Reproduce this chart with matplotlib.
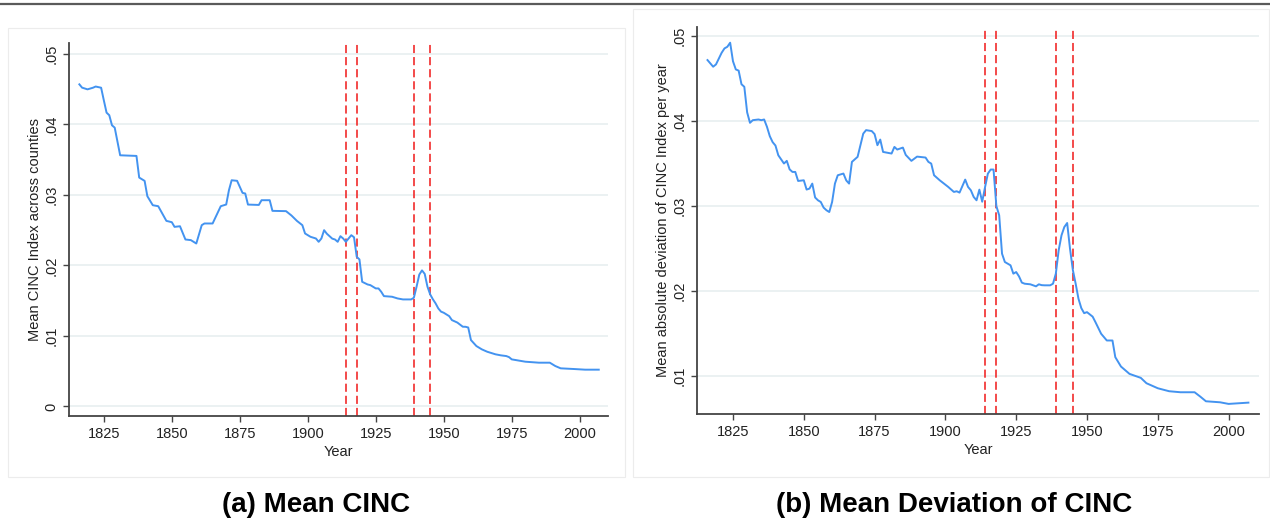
import matplotlib
matplotlib.use("Agg")
import matplotlib.pyplot as plt
from matplotlib.lines import Line2D
from matplotlib.patches import Rectangle

plt.rcParams['font.family'] = ['Liberation Sans', 'DejaVu Sans']

# ---------------- data ----------------
years_mean = [1816, 1817, 1819, 1821, 1822, 1824, 1825, 1826, 1827, 1828, 1829, 1831,
              1837, 1838, 1840, 1841, 1843, 1845, 1848, 1850, 1851, 1853, 1855, 1857,
              1859, 1861, 1862, 1865, 1868, 1870, 1871, 1872, 1874, 1876, 1877, 1878,
              1882, 1883, 1886, 1887, 1892, 1894, 1896, 1898, 1899, 1901, 1903, 1904,
              1905, 1906, 1907, 1908, 1909, 1910, 1911, 1912, 1913, 1914, 1915, 1916,
              1917, 1918, 1919, 1920, 1922, 1923, 1925, 1926, 1927, 1928, 1931, 1933,
              1935, 1938, 1939, 1940, 1941, 1942, 1943, 1944, 1945, 1946, 1947, 1948,
              1949, 1950, 1952, 1953, 1955, 1957, 1958, 1959, 1960, 1962, 1964, 1966,
              1969, 1971, 1973, 1974, 1975, 1980, 1985, 1989, 1991, 1993, 1998, 2002,
              2007]
mean_cinc = [0.04568, 0.04521, 0.04497, 0.04520, 0.04537, 0.04520, 0.04341, 0.04167,
             0.04130, 0.03987, 0.03954, 0.03562, 0.03553, 0.03246, 0.03199, 0.02982,
             0.02854, 0.02840, 0.02632, 0.02613, 0.02547, 0.02556, 0.02368, 0.02359,
             0.02311, 0.02571, 0.02595, 0.02595, 0.02840, 0.02864, 0.03066, 0.03208,
             0.03200, 0.03029, 0.03020, 0.02863, 0.02858, 0.02925, 0.02925, 0.02774,
             0.02770, 0.02708, 0.02632, 0.02571, 0.02453, 0.02406, 0.02382, 0.02335,
             0.02382, 0.02500, 0.02450, 0.02415, 0.02380, 0.02368, 0.02335, 0.02415,
             0.02382, 0.02335, 0.02382, 0.02429, 0.02400, 0.02122, 0.02085, 0.01768,
             0.01730, 0.01721, 0.01674, 0.01674, 0.01627, 0.01565, 0.01556, 0.01532,
             0.01518, 0.01518, 0.01541, 0.01697, 0.01870, 0.01930, 0.01880, 0.01700,
             0.01590, 0.01520, 0.01462, 0.01390, 0.01345, 0.01329, 0.01281, 0.01225,
             0.01190, 0.01131, 0.01130, 0.01120, 0.00942, 0.00857, 0.00810, 0.00776,
             0.00740, 0.00725, 0.00715, 0.00700, 0.00668, 0.00635, 0.00621, 0.00621,
             0.00574, 0.00541, 0.00531, 0.00522, 0.00522]

years_dev = [1816, 1817, 1818, 1819, 1821, 1822, 1823, 1824, 1825, 1826, 1827, 1828,
             1829, 1830, 1831, 1832, 1834, 1835, 1836, 1837, 1838, 1839, 1840, 1841,
             1843, 1844, 1845, 1846, 1847, 1848, 1850, 1851, 1852, 1853, 1854, 1855,
             1856, 1857, 1858, 1859, 1860, 1861, 1862, 1864, 1865, 1866, 1867, 1869,
             1870, 1871, 1872, 1874, 1875, 1876, 1877, 1878, 1881, 1882, 1883, 1885,
             1886, 1888, 1890, 1893, 1894, 1895, 1896, 1898, 1900, 1901, 1903, 1904,
             1905, 1907, 1908, 1909, 1910, 1911, 1912, 1913, 1914, 1915, 1916, 1917,
             1918, 1919, 1920, 1921, 1923, 1924, 1925, 1926, 1927, 1928, 1930, 1932,
             1933, 1934, 1935, 1937, 1938, 1939, 1940, 1941, 1942, 1943, 1944, 1945,
             1946, 1947, 1948, 1949, 1950, 1952, 1953, 1955, 1957, 1959, 1960, 1962,
             1965, 1969, 1971, 1975, 1979, 1983, 1988, 1990, 1992, 1997, 2000, 2007]
dev_cinc = [0.04714, 0.04675, 0.04636, 0.04663, 0.04800, 0.04851, 0.04870, 0.04918,
            0.04700, 0.04604, 0.04590, 0.04430, 0.04400, 0.04100, 0.03977, 0.04008,
            0.04016, 0.04008, 0.04016, 0.03930, 0.03820, 0.03750, 0.03710, 0.03596,
            0.03499, 0.03530, 0.03430, 0.03400, 0.03400, 0.03294, 0.03302, 0.03193,
            0.03204, 0.03263, 0.03100, 0.03067, 0.03047, 0.02981, 0.02950, 0.02929,
            0.03047, 0.03263, 0.03361, 0.03381, 0.03300, 0.03263, 0.03518, 0.03577,
            0.03714, 0.03850, 0.03891, 0.03880, 0.03844, 0.03714, 0.03780, 0.03635,
            0.03616, 0.03694, 0.03663, 0.03686, 0.03600, 0.03530, 0.03580, 0.03569,
            0.03518, 0.03498, 0.03361, 0.03302, 0.03251, 0.03224, 0.03165, 0.03173,
            0.03157, 0.03310, 0.03224, 0.03184, 0.03106, 0.03067, 0.03192, 0.03050,
            0.03220, 0.03380, 0.03428, 0.03428, 0.03000, 0.02890, 0.02440, 0.02342,
            0.02303, 0.02205, 0.02224, 0.02173, 0.02100, 0.02087, 0.02080, 0.02056,
            0.02080, 0.02070, 0.02068, 0.02068, 0.02087, 0.02205, 0.02479, 0.02655,
            0.02753, 0.02800, 0.02500, 0.02250, 0.02087, 0.01910, 0.01800, 0.01741,
            0.01753, 0.01700, 0.01635, 0.01499, 0.01420, 0.01420, 0.01224, 0.01114,
            0.01028, 0.00981, 0.00918, 0.00859, 0.00824, 0.00812, 0.00812, 0.00761,
            0.00706, 0.00694, 0.00675, 0.00690]

war_years = [1914, 1918, 1939, 1945]
x_ticks = [1825, 1850, 1875, 1900, 1925, 1950, 1975, 2000]
y_ticks_a = [0, 0.01, 0.02, 0.03, 0.04, 0.05]
y_labels_a = ['0', '.01', '.02', '.03', '.04', '.05']
y_ticks_b = [0.01, 0.02, 0.03, 0.04, 0.05]
y_labels_b = ['.01', '.02', '.03', '.04', '.05']
ylabel_a = 'Mean CINC Index across counties'
ylabel_b = 'Mean absolute deviation of CINC Index per year'
caption_a = '(a) Mean CINC'
caption_b = '(b) Mean Deviation of CINC'

# ---------------- styling ----------------
W, H = 1270, 520
LINE_C = '#4393f0'
RED_C = '#f23b3b'
GRID_C = '#e9f0f1'
AX_C = '#444444'

fig = plt.figure(figsize=(W / 100, H / 100), dpi=100)
fig.patch.set_facecolor('white')

# top rule and graph-region frames
fig.add_artist(Line2D([0, 1], [1 - 4 / H, 1 - 4 / H], transform=fig.transFigure,
                      color='#5a5a5a', lw=1.6))
fig.add_artist(Rectangle((8 / W, 1 - 477 / H), (624.5 - 8) / W, (477 - 28.3) / H,
                         transform=fig.transFigure, fill=False, ec='#ececec', lw=0.8))
fig.add_artist(Rectangle((633 / W, 1 - 477.3 / H), (1269 - 633) / W, (477.3 - 9.3) / H,
                         transform=fig.transFigure, fill=False, ec='#ececec', lw=0.8))


def make_axes(rect, years, vals, xlim, ylim, yt, ytl, ylabel):
    ax = fig.add_axes(rect)
    ax.set_xlim(*xlim)
    ax.set_ylim(*ylim)
    for s in ['top', 'right']:
        ax.spines[s].set_visible(False)
    for s in ['left', 'bottom']:
        ax.spines[s].set_color(AX_C)
        ax.spines[s].set_linewidth(1.3)
    ax.set_yticks(yt)
    ax.set_yticklabels(ytl)
    ax.set_xticks(x_ticks)
    ax.tick_params(axis='both', colors=AX_C, labelcolor='#222222', labelsize=10.5,
                   length=4, width=1.0, pad=4)
    for lab in ax.get_yticklabels():
        lab.set_rotation(90)
        lab.set_va('center')
    ax.yaxis.grid(True, color=GRID_C, lw=1.3)
    ax.set_axisbelow(True)
    for wy in war_years:
        ax.axvline(wy, color=RED_C, lw=1.3, linestyle=(0, (4.5, 2.2)), zorder=2)
    ax.plot(years, vals, color=LINE_C, lw=1.4, zorder=3)
    ax.set_xlabel('Year', fontsize=10.5, color='#222222', labelpad=3)
    ax.set_ylabel(ylabel, fontsize=10.5, color='#222222', labelpad=1.5)
    return ax


ax1 = make_axes([69.3 / W, 104 / H, (608 - 69.3) / W, (416 - 43.3) / H],
                years_mean, mean_cinc, (1812.3, 2010.4), (-0.00135, 0.0515),
                y_ticks_a, y_labels_a, ylabel_a)
ax2 = make_axes([697.3 / W, (H - 413.7) / H, (1258.6 - 697.3) / W, (413.7 - 26.7) / H],
                years_dev, dev_cinc, (1812.4, 2010.6), (0.0056, 0.05106),
                y_ticks_b, y_labels_b, ylabel_b)

fig.text(316 / W, 1 - 505 / H, caption_a, ha='center', va='center',
         fontsize=20, fontweight='bold', color='black')
fig.text(954 / W, 1 - 505 / H, caption_b, ha='center', va='center',
         fontsize=20, fontweight='bold', color='black')

fig.savefig('out.png', dpi=100, facecolor='white')
